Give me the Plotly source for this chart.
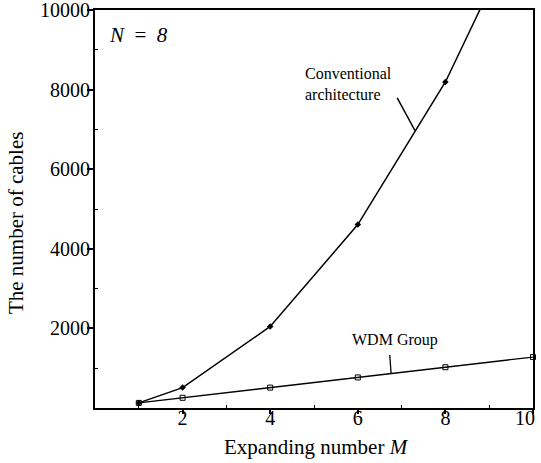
import plotly.graph_objects as go

M_conv = [1, 2, 4, 6, 8, 10]
cables_conv = [128, 512, 2048, 4608, 8192, 12800]
M_wdm = [1, 2, 4, 6, 8, 10]
cables_wdm = [128, 256, 512, 768, 1024, 1280]
x_ticks = [2, 4, 6, 8, 10]
x_tick_text = ["2", "4", "6", "8", ""]
last_x_label = "10"
y_ticks = [2000, 4000, 6000, 8000, 10000]
y_tick_text = ["2000", "4000", "6000", "8000", "10000"]

FONT = "Liberation Serif"

fig = go.Figure()
fig.add_trace(go.Scatter(
    x=M_conv, y=cables_conv, mode="lines+markers",
    line=dict(color="black", width=1.5),
    marker=dict(symbol="diamond", size=5, color="black"),
    showlegend=False))
fig.add_trace(go.Scatter(
    x=M_wdm, y=cables_wdm, mode="lines+markers",
    line=dict(color="black", width=1.3),
    marker=dict(symbol="square-open", size=5, color="black", line=dict(width=1)),
    cliponaxis=False, showlegend=False))

# leader lines
fig.add_shape(type="line", x0=6.9, y0=7790, x1=7.31, y1=6960,
              line=dict(color="black", width=1.5))
fig.add_shape(type="line", x0=6.73, y0=1330, x1=6.76, y1=865,
              line=dict(color="black", width=1.3))

fig.add_annotation(x=4.75, y=8140, text="Conventional<br>architecture",
                   showarrow=False, xanchor="left", yanchor="middle", align="left",
                   font=dict(family=FONT, size=16, color="black"))
fig.add_annotation(x=6.85, y=1700, text="WDM Group", showarrow=False,
                   xanchor="center", yanchor="middle",
                   font=dict(family=FONT, size=16, color="black"))
fig.add_annotation(x=0.28, y=9370, text="<i>N</i>\u00a0 = \u00a0<i>8</i>", showarrow=False,
                   xanchor="left", yanchor="middle",
                   font=dict(family=FONT, size=21, color="black"))

# last x tick label, nudged left to stay inside the page
fig.add_annotation(x=x_ticks[-1], xref="x", yref="paper", y=-0.026,
                   text=last_x_label, showarrow=False, xanchor="right",
                   yanchor="middle", xshift=4,
                   font=dict(family=FONT, size=20, color="black"))

# axis titles
fig.add_annotation(xref="paper", yref="paper", x=0.506, y=-0.098,
                   text="Expanding number <i>M</i>", showarrow=False,
                   xanchor="center", yanchor="middle",
                   font=dict(family=FONT, size=21, color="black"))
fig.add_annotation(xref="paper", yref="paper", x=-0.18, y=0.465,
                   text="The number of cables", showarrow=False, textangle=-90,
                   xanchor="center", yanchor="middle",
                   font=dict(family=FONT, size=21, color="black"))

fig.update_xaxes(range=[0, 10], tickvals=x_ticks, ticktext=x_tick_text,
                 ticks="outside", ticklen=4,
                 tickwidth=1.5, tickcolor="black", ticklabeloverflow="allow",
                 ticklabelstandoff=-13,
                 showline=True, linecolor="black", linewidth=2, mirror=True,
                 showgrid=False, zeroline=False, automargin=False,
                 minor=dict(tickvals=[1, 3, 5, 7, 9], ticks="inside", ticklen=3,
                            tickcolor="black", tickwidth=1),
                 tickfont=dict(family=FONT, size=20, color="black"))
fig.update_yaxes(range=[0, 10000], tickvals=y_ticks, ticktext=y_tick_text,
                 ticks="outside", ticklen=6,
                 tickwidth=1.5, tickcolor="black", ticklabeloverflow="allow",
                 ticklabelstandoff=-7,
                 showline=True, linecolor="black", linewidth=2, mirror=True,
                 showgrid=False, zeroline=False, automargin=False,
                 minor=dict(tickvals=[1000, 3000, 5000, 7000, 9000], ticks="inside",
                            ticklen=3, tickcolor="black", tickwidth=1),
                 tickfont=dict(family=FONT, size=20, color="black"))

fig.update_layout(width=541, height=463, paper_bgcolor="white", plot_bgcolor="white",
                  font=dict(family=FONT, color="black"),
                  margin=dict(l=95, r=8, t=10, b=55))
fig.write_html("out.html", config={"displayModeBar": False},
               post_script="document.body.style.margin='0';document.body.style.overflow='hidden';")
